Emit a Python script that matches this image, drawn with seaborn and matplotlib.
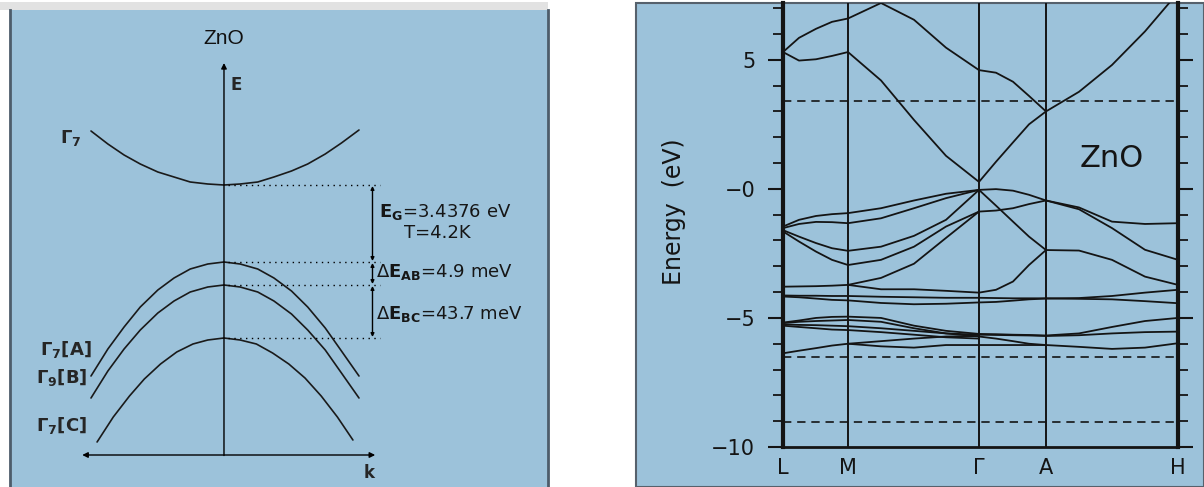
import numpy as np
import pandas as pd
import matplotlib
matplotlib.use('Agg')
import matplotlib.pyplot as plt
from matplotlib.patches import Rectangle
from matplotlib.ticker import MultipleLocator
import seaborn as sns

# ---------------- left panel: band edges near Gamma (schematic units) ----------------
k_cb = [-0.985, -0.86, -0.74, -0.62, -0.49, -0.37, -0.25, -0.12, 0.0, 0.12, 0.25, 0.37, 0.50, 0.62, 0.75, 0.87, 1.0]
E_cb = [3.24, 3.11, 3.00, 2.91, 2.83, 2.78, 2.73, 2.71, 2.70, 2.71, 2.73, 2.78, 2.84, 2.91, 3.01, 3.12, 3.25]
k_vab = [-0.985, -0.86, -0.74, -0.62, -0.49, -0.37, -0.25, -0.12, 0.0, 0.12, 0.25, 0.37, 0.50, 0.62, 0.75, 0.87, 1.0]
E_va = [0.79, 1.06, 1.28, 1.48, 1.65, 1.77, 1.86, 1.91, 1.93, 1.91, 1.86, 1.77, 1.64, 1.48, 1.27, 1.04, 0.79]
E_vb = [0.57, 0.84, 1.06, 1.25, 1.42, 1.54, 1.63, 1.68, 1.70, 1.68, 1.63, 1.54, 1.41, 1.25, 1.05, 0.82, 0.57]
k_vc = [-0.94, -0.82, -0.70, -0.59, -0.47, -0.35, -0.23, -0.12, 0.0, 0.12, 0.24, 0.36, 0.48, 0.60, 0.72, 0.84, 0.955]
E_vc = [0.13, 0.38, 0.59, 0.76, 0.91, 1.03, 1.11, 1.15, 1.17, 1.15, 1.11, 1.02, 0.91, 0.77, 0.59, 0.38, 0.15]
edge_levels = [2.70, 1.93, 1.70, 1.17]

# ---------------- right panel: ZnO band structure (eV) ----------------
k_path = [0, 16, 33, 49, 65, 98, 131, 163, 196, 213, 230, 246, 263, 296, 329, 362, 395]
sym_pos = [0, 65, 196, 263, 395]
sym_labels = ['L', 'M', 'Γ', 'A', 'H']
N = None
c1 = [5.3, 4.97, 5.02, 5.15, 5.3, 4.2, 2.67, 1.28, 0.27, 1.05, 1.8, 2.5, 3.0, 3.76, 4.8, 6.1, 7.6]
c2 = [5.3, 5.85, 6.2, 6.47, 6.6, 7.2, 6.55, 5.47, 4.6, 4.5, 4.15, 3.6, 3.0, N, N, N, N]
va = [-1.46, -1.2, -1.05, -0.98, -0.94, -0.75, -0.45, -0.19, -0.04, -0.01, -0.07, -0.23, -0.45, -0.72, -1.27, -1.36, -1.33]
vb = [-1.52, -1.36, -1.28, -1.29, -1.33, -1.14, -0.75, -0.36, -0.04, -0.65, -1.27, -1.85, -2.37, -2.39, -2.75, -3.4, -3.72]
vc = [-1.6, -1.85, -2.1, -2.3, -2.4, -2.24, -1.82, -1.2, -0.04, N, N, N, N, N, N, N, N]
vd = [-1.65, -2.04, -2.43, -2.75, -2.95, -2.75, -2.24, -1.46, -0.88, -0.84, -0.75, -0.59, -0.45, -0.79, -1.52, -2.36, -2.75]
ve = [-3.79, -3.78, -3.77, -3.75, -3.72, -3.89, -3.89, -3.95, -4.02, -3.91, -3.59, -2.95, -2.37, N, N, N, N]
vf = [N, N, N, N, -3.72, -3.45, -2.9, -1.9, -0.88, N, N, N, N, N, N, N, N]
g1 = [-4.13, -4.14, -4.14, -4.15, -4.15, -4.18, -4.2, -4.22, -4.22, -4.23, -4.24, -4.24, -4.24, -4.26, -4.28, -4.35, -4.43]
g2 = [-4.17, -4.2, -4.25, -4.3, -4.32, -4.42, -4.47, -4.45, -4.4, -4.38, -4.33, -4.28, -4.25, -4.23, -4.15, -4.02, -3.91]
h1 = [-5.18, -5.1, -5.0, -4.96, -4.95, -5.0, -5.3, -5.5, -5.62, -5.63, -5.65, -5.66, -5.68, -5.6, -5.35, -5.12, -5.0]
h2 = [-5.2, -5.15, -5.12, -5.1, -5.08, -5.15, -5.4, -5.6, -5.72, -5.8, -5.9, -6.0, -6.05, N, N, N, N]
h3 = [-5.25, -5.27, -5.28, -5.3, -5.32, -5.4, -5.5, -5.6, -5.65, -5.66, -5.67, -5.68, -5.7, -5.67, -5.6, -5.55, -5.53]
h4 = [-5.3, -5.35, -5.4, -5.45, -5.47, -5.55, -5.65, -5.75, -5.8, N, N, N, N, N, N, N, N]
h5 = [-6.37, -6.27, -6.17, -6.07, -6.0, -5.9, -5.8, -5.72, -5.7, N, N, N, N, N, N, N, N]
h6 = [N, N, N, N, -6.0, -6.1, -6.15, -6.05, -6.05, -6.05, -6.05, -6.05, -6.05, -6.12, -6.2, -6.15, -5.98]
dashed_levels = [3.41, -6.51, -9.03]

bands = {'c1': c1, 'c2': c2, 'va': va, 'vb': vb, 'vc': vc, 'vd': vd, 've': ve, 'vf': vf,
         'g1': g1, 'g2': g2, 'h1': h1, 'h2': h2, 'h3': h3, 'h4': h4, 'h5': h5, 'h6': h6}
band_df = pd.concat([pd.DataFrame({'k': k_path, 'E': v, 'band': n}) for n, v in bands.items()])
band_df = band_df.dropna()

left_df = pd.concat([
    pd.DataFrame({'k': k_cb, 'E': E_cb, 'band': 'cb'}),
    pd.DataFrame({'k': k_vab, 'E': E_va, 'band': 'A'}),
    pd.DataFrame({'k': k_vab, 'E': E_vb, 'band': 'B'}),
    pd.DataFrame({'k': k_vc, 'E': E_vc, 'band': 'C'}),
])

sns.set_theme(style='white')
plt.rcParams['font.family'] = ['Liberation Sans', 'DejaVu Sans']
plt.rcParams['mathtext.fontset'] = 'custom'
plt.rcParams['mathtext.rm'] = 'DejaVu Sans'
plt.rcParams['mathtext.bf'] = 'DejaVu Sans:bold'
plt.rcParams['mathtext.it'] = 'DejaVu Sans:italic'

W, H = 1204, 487
blue = '#9cc2da'


def box(x0, y0, x1, y1):
    return [x0 / W, 1 - y1 / H, (x1 - x0) / W, (y1 - y0) / H]


fig = plt.figure(figsize=(W / 100, H / 100), dpi=100)
fig.patch.set_facecolor('white')

# window chrome / panel backgrounds (kept behind the axes)
b = box(0, 2, 548, 10)
fig.patches.append(Rectangle(b[:2], b[2], b[3], transform=fig.transFigure, facecolor='#e2e2e2',
                             edgecolor='none', zorder=-5))
b = box(636, 3, 1204, 487)
fig.patches.append(Rectangle(b[:2], b[2], b[3], transform=fig.transFigure, facecolor=blue,
                             edgecolor='#56616c', lw=1.5, zorder=-5))

# ---------------- left panel ----------------
axL = fig.add_axes(box(10, 10, 548, 487))
axL.set_facecolor(blue)
for s in ['top', 'bottom']:
    axL.spines[s].set_visible(False)
for s in ['left', 'right']:
    axL.spines[s].set_color('#4d5c6a')
    axL.spines[s].set_linewidth(2)
axL.set_xlim(-1.585, 2.400)
axL.set_ylim(-0.32, 4.45)
axL.set_xticks([])
axL.set_yticks([])

sns.lineplot(data=left_df, x='k', y='E', units='band', estimator=None, sort=False,
             color='#1a1a1a', lw=1.2, ax=axL, legend=False)
axL.set_xlabel('')
axL.set_ylabel('')

arrow_kw = dict(color='black', lw=1, shrinkA=0, shrinkB=0)
axL.annotate('', xy=(0, 3.92), xytext=(0, -0.005),
             arrowprops=dict(arrowstyle='-|>', mutation_scale=8, **arrow_kw))
axL.annotate('', xy=(-1.05, 0), xytext=(1.12, 0),
             arrowprops=dict(arrowstyle='<|-|>', mutation_scale=8, **arrow_kw))
for lev in edge_levels:
    axL.plot([0.03, 1.156], [lev, lev], color='black', lw=1, ls=(0, (1, 3.2)))
for top, bot in zip(edge_levels[:-1], edge_levels[1:]):
    axL.annotate('', xy=(1.10, top - 0.01), xytext=(1.10, bot + 0.01),
                 arrowprops=dict(arrowstyle='<|-|>', mutation_scale=5, **arrow_kw))

axL.text(0, 4.17, 'ZnO', ha='center', va='center', fontsize=15, color='#111111')
axL.text(0.045, 3.70, r'$\mathbf{E}$', ha='left', va='center', fontsize=12)
axL.text(1.08, -0.17, r'$\mathbf{k}$', ha='center', va='center', fontsize=12)
axL.text(-1.215, 3.17, r'$\mathbf{\Gamma_7}$', ha='left', va='center', fontsize=13)
axL.text(-1.36, 1.05, r'$\mathbf{\Gamma_7[A]}$', ha='left', va='center', fontsize=13)
axL.text(-1.39, 0.77, r'$\mathbf{\Gamma_9[B]}$', ha='left', va='center', fontsize=13)
axL.text(-1.39, 0.30, r'$\mathbf{\Gamma_7[C]}$', ha='left', va='center', fontsize=13)
txt_kw = dict(ha='left', va='center', fontsize=13, family='DejaVu Sans', color='#161616')
axL.text(1.148, 2.43, r'$\mathbf{E}_{\mathbf{G}}$=3.4376 eV', **txt_kw)
axL.text(1.333, 2.22, 'T=4.2K', **txt_kw)
axL.text(1.125, 1.83, r'$\Delta\mathbf{E}_{\mathbf{AB}}$=4.9 meV', **txt_kw)
axL.text(1.125, 1.41, r'$\Delta\mathbf{E}_{\mathbf{BC}}$=43.7 meV', **txt_kw)

# ---------------- right panel ----------------
axR = fig.add_axes(box(783, 3, 1178, 447))
axR.set_facecolor('none')
sns.lineplot(data=band_df, x='k', y='E', units='band', estimator=None, sort=False,
             color='#141414', lw=1.3, ax=axR, legend=False)
axR.set_xlim(0, 395)
axR.set_ylim(-10, 7.2)
for x in sym_pos[1:-1]:
    axR.axvline(x, color='#141414', lw=1.4)
for lev in dashed_levels:
    axR.axhline(lev, color='#141414', lw=1.2, ls=(0, (5, 3.5)))

axR.spines['top'].set_visible(False)
axR.spines['left'].set_linewidth(3)
axR.spines['right'].set_linewidth(3)
axR.spines['bottom'].set_linewidth(2)
for s in ['left', 'right', 'bottom']:
    axR.spines[s].set_color('#141414')

axR.set_xticks(sym_pos)
axR.set_xticklabels(sym_labels, fontsize=15, family='DejaVu Sans')
axR.set_yticks([-10, -5, 0, 5])
axR.set_yticklabels(['\u221210', '\u22125', '\u22120', '5'], fontsize=15, family='DejaVu Sans')
axR.yaxis.set_minor_locator(MultipleLocator(1))
axR.tick_params(axis='x', length=0, pad=8, colors='#141414')
axR.tick_params(axis='y', which='both', direction='out', left=True, right=True,
                labelright=False, colors='#141414')
axR.tick_params(axis='y', which='major', length=11, width=1.5, pad=9)
axR.tick_params(axis='y', which='minor', length=7, width=1.3)

axR.set_xlabel('')
axR.set_ylabel('Energy  (eV)', fontsize=17, family='DejaVu Sans', color='#141414')
axR.yaxis.set_label_coords(-0.245, 0.53)
axR.text(329, 1.16, 'ZnO', ha='center', va='center', fontsize=22, family='DejaVu Sans', color='#141414')

fig.savefig('out.png', dpi=100)
